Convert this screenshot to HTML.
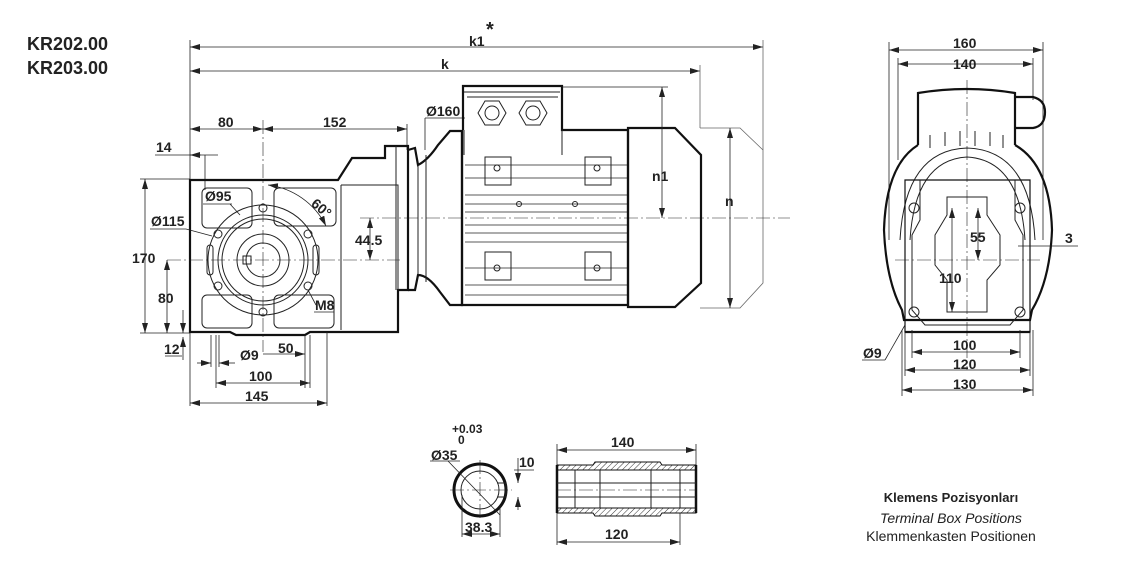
<!DOCTYPE html>
<html><head><meta charset="utf-8"><style>
body{margin:0;background:#fff}
svg{display:block}
text{font-family:"Liberation Sans",Arial,sans-serif;fill:#222}
.b{font-weight:bold;font-size:14px}
.d{stroke:#222;stroke-width:0.8;fill:none}
.o{stroke:#111;stroke-width:2.2;fill:none}
.t{stroke:#222;stroke-width:1;fill:none}
.g{stroke:#666;stroke-width:0.8;fill:none}
.c{stroke:#222;stroke-width:0.6;fill:none;stroke-dasharray:14 3 2 3}
</style></head><body>
<svg width="1128" height="561" viewBox="0 0 1128 561" xmlns="http://www.w3.org/2000/svg">
<defs>
<marker id="a" viewBox="0 0 10 6" refX="10" refY="3" markerWidth="10" markerHeight="6" orient="auto-start-reverse" markerUnits="userSpaceOnUse"><path d="M0,0 L10,3 L0,6 z" fill="#222"/></marker>
<pattern id="h" width="4" height="4" patternUnits="userSpaceOnUse" patternTransform="rotate(45)"><line x1="0" y1="0" x2="0" y2="4" stroke="#333" stroke-width="1"/></pattern>
</defs>

<text x="27" y="50" style="font-weight:bold;font-size:18px">KR202.00</text>
<text x="27" y="74" style="font-weight:bold;font-size:18px">KR203.00</text>

<line class="d" x1="190" y1="40" x2="190" y2="406"/>
<line class="d" x1="190" y1="47" x2="763" y2="47" marker-start="url(#a)" marker-end="url(#a)"/>
<text x="469" y="46" class="b">k1</text><text x="486" y="36" style="font-weight:bold;font-size:20px">*</text>
<line class="d" x1="190" y1="71" x2="700" y2="71" marker-start="url(#a)" marker-end="url(#a)"/>
<text x="441" y="69" class="b">k</text>
<line class="g" x1="763" y1="40" x2="763" y2="150"/>
<line class="g" x1="700" y1="65" x2="700" y2="128"/>
<path class="g" d="M700,128 L740,128 L763,150 L763,283 L740,308 L700,308"/>

<line class="d" x1="190" y1="129" x2="263" y2="129" marker-start="url(#a)" marker-end="url(#a)"/>
<line class="d" x1="263" y1="129" x2="407" y2="129" marker-start="url(#a)" marker-end="url(#a)"/>
<line class="d" x1="407" y1="124" x2="407" y2="150"/>
<text x="218" y="127" class="b">80</text><text x="323" y="127" class="b">152</text>
<line class="d" x1="155" y1="155" x2="218" y2="155"/><line class="d" x1="201" y1="155" x2="190" y2="155" marker-end="url(#a)"/>
<line class="d" x1="205" y1="155" x2="205" y2="190"/>
<text x="156" y="152" class="b">14</text>

<path class="o" d="M190,180 L338,180 L352,158 L385,158 L385,146 L408,146 L408,290 L398,290 L398,332 L310,332 L305,335 L236,335 L230,332 L190,332 Z"/>
<path class="t" d="M341,185 L341,330 M341,185 L398,185 L398,290"/>
<line class="t" x1="396" y1="146" x2="396" y2="290"/>
<line class="c" x1="263" y1="120" x2="263" y2="352"/>
<line class="c" x1="167" y1="260" x2="400" y2="260"/>
<line class="c" x1="360" y1="218" x2="790" y2="218"/>
<rect class="t" x="202" y="188" width="50" height="40" rx="5"/>
<rect class="t" x="274" y="188" width="62" height="38" rx="5"/>
<rect class="t" x="202" y="295" width="50" height="33" rx="5"/>
<rect class="t" x="274" y="295" width="60" height="33" rx="5"/>
<circle class="t" cx="263" cy="260" r="55"/>
<circle class="t" cx="263" cy="260" r="45"/>
<circle class="t" cx="263" cy="260" r="41"/>
<circle class="t" cx="263" cy="260" r="26"/>
<circle class="t" cx="263" cy="260" r="17"/>
<rect class="t" x="243" y="256" width="8" height="8"/>
<g class="t">
<circle cx="263" cy="208" r="4"/><circle cx="263" cy="312" r="4"/>
<circle cx="218" cy="234" r="4"/><circle cx="308" cy="234" r="4"/>
<circle cx="218" cy="286" r="4"/><circle cx="308" cy="286" r="4"/>
<rect x="207" y="245" width="6" height="30" rx="3"/><rect x="313" y="245" width="6" height="30" rx="3"/>
</g>
<path class="d" d="M268,185 A75,75 0 0 1 326,226" marker-start="url(#a)" marker-end="url(#a)"/>
<text x="312" y="210" class="b" transform="rotate(40 318 205)">60°</text>
<text x="205" y="201" class="b">Ø95</text><line class="d" x1="203" y1="204" x2="232" y2="204"/><line class="d" x1="230" y1="204" x2="240" y2="215"/>
<text x="151" y="226" class="b">Ø115</text><line class="d" x1="150" y1="229" x2="186" y2="229"/><line class="d" x1="186" y1="229" x2="212" y2="236"/>
<text x="315" y="310" class="b">M8</text><line class="d" x1="314" y1="312" x2="334" y2="312"/><line class="d" x1="316" y1="305" x2="308" y2="290"/>
<text x="355" y="245" class="b">44.5</text>
<line class="d" x1="370" y1="218" x2="370" y2="260" marker-start="url(#a)" marker-end="url(#a)"/>
<line class="d" x1="140" y1="179" x2="190" y2="179"/>
<line class="d" x1="145" y1="179" x2="145" y2="333" marker-start="url(#a)" marker-end="url(#a)"/>
<line class="d" x1="140" y1="333" x2="190" y2="333"/>
<text x="132" y="263" class="b">170</text>
<line class="d" x1="167" y1="260" x2="167" y2="333" marker-start="url(#a)" marker-end="url(#a)"/>
<text x="158" y="303" class="b">80</text>
<line class="d" x1="183" y1="310" x2="183" y2="333" marker-end="url(#a)"/>
<line class="d" x1="183" y1="360" x2="183" y2="337" marker-end="url(#a)"/>
<text x="164" y="354" class="b">12</text><line class="d" x1="165" y1="356" x2="182" y2="356"/>
<g class="d">
<line x1="211" y1="335" x2="211" y2="367"/><line x1="216" y1="335" x2="216" y2="388"/><line x1="219" y1="335" x2="219" y2="367"/>
<line x1="305" y1="335" x2="305" y2="388"/><line x1="310" y1="335" x2="310" y2="388"/>
<line x1="327" y1="332" x2="327" y2="406"/>
</g>
<line class="d" x1="197" y1="363" x2="211" y2="363" marker-end="url(#a)"/>
<line class="d" x1="235" y1="363" x2="219" y2="363" marker-end="url(#a)"/>
<line class="d" x1="263" y1="354" x2="305" y2="354" marker-end="url(#a)"/>
<text x="240" y="360" class="b">Ø9</text><text x="278" y="353" class="b">50</text>
<line class="d" x1="216" y1="383" x2="310" y2="383" marker-start="url(#a)" marker-end="url(#a)"/>
<text x="249" y="381" class="b">100</text>
<line class="d" x1="190" y1="403" x2="327" y2="403" marker-start="url(#a)" marker-end="url(#a)"/>
<text x="245" y="401" class="b">145</text>

<path class="o" d="M408,150 L415,148 L418,165 Q428,160 438,145 L450,131 L462,131 L462,305 L450,305 L440,292 Q428,275 418,275 L415,290 L408,290"/>
<line class="t" x1="418" y1="165" x2="418" y2="275"/>
<line class="t" x1="426" y1="155" x2="426" y2="282"/>
<line class="d" x1="425" y1="118" x2="425" y2="150"/>
<line class="d" x1="425" y1="118" x2="465" y2="118"/>
<text x="426" y="116" class="b">Ø160</text>
<path class="o" d="M462,130 L462,305 L628,305 L628,130 L562,130 L562,86 L463,86 L463,130"/>
<path class="t" d="M464,92 L560,92 M467,97 L558,97 M464,130 L464,155 M562,130 L562,155"/>
<g class="t">
<polygon points="478,113 485,101 499,101 506,113 499,125 485,125"/><circle cx="492" cy="113" r="7"/>
<polygon points="519,113 526,101 540,101 547,113 540,125 526,125"/><circle cx="533" cy="113" r="7"/>
</g>
<g class="t">
<rect x="485" y="157" width="26" height="28"/><rect x="585" y="157" width="26" height="28"/>
<rect x="485" y="252" width="26" height="28"/><rect x="585" y="252" width="26" height="28"/>
<circle cx="497" cy="168" r="3"/><circle cx="597" cy="168" r="3"/>
<circle cx="497" cy="268" r="3"/><circle cx="597" cy="268" r="3"/>
<circle cx="519" cy="204" r="2.5"/><circle cx="575" cy="204" r="2.5"/>
</g>
<g class="d">
<line x1="465" y1="165" x2="628" y2="165"/><line x1="465" y1="178" x2="628" y2="178"/>
<line x1="465" y1="195" x2="628" y2="195"/><line x1="465" y1="204" x2="628" y2="204"/>
<line x1="465" y1="212" x2="628" y2="212"/><line x1="465" y1="225" x2="628" y2="225"/>
<line x1="465" y1="233" x2="628" y2="233"/><line x1="465" y1="242" x2="628" y2="242"/>
<line x1="465" y1="268" x2="628" y2="268"/><line x1="465" y1="285" x2="628" y2="285"/>
<line x1="465" y1="295" x2="628" y2="295"/>
</g>
<path class="o" d="M628,128 L675,128 L701,155 L701,283 L675,307 L628,307 Z"/>
<line class="d" x1="562" y1="87" x2="668" y2="87"/>
<line class="d" x1="662" y1="87" x2="662" y2="218" marker-start="url(#a)" marker-end="url(#a)"/>
<text x="652" y="181" class="b">n1</text>
<line class="d" x1="730" y1="128" x2="730" y2="308" marker-start="url(#a)" marker-end="url(#a)"/>
<text x="725" y="206" class="b">n</text>

<line class="d" x1="889" y1="42" x2="889" y2="240"/><line class="d" x1="1043" y1="42" x2="1043" y2="240"/>
<line class="d" x1="889" y1="50" x2="1043" y2="50" marker-start="url(#a)" marker-end="url(#a)"/>
<text x="953" y="48" class="b">160</text>
<line class="d" x1="898" y1="58" x2="898" y2="160"/><line class="d" x1="1033" y1="58" x2="1033" y2="100"/>
<line class="d" x1="898" y1="64" x2="1033" y2="64" marker-start="url(#a)" marker-end="url(#a)"/>
<text x="953" y="69" class="b">140</text>
<line class="c" x1="967" y1="80" x2="967" y2="370"/>
<path class="o" d="M918,145 L918,93 Q967,85 1015,93 L1015,145"/>
<path class="o" d="M1015,97 L1033,97 Q1045,100 1045,112 Q1045,126 1033,128 L1015,128"/>
<path class="o" d="M918,145 Q886,165 884,230 Q886,280 902,310 L904,320 L1030,320 L1032,310 Q1050,280 1052,230 Q1050,165 1015,145"/>
<path class="t" d="M900,240 Q905,150 967,148 Q1030,150 1035,240"/>
<path class="t" d="M910,240 Q915,160 967,157 Q1020,160 1025,240"/>
<g class="t"><line x1="930" y1="135" x2="930" y2="148"/><line x1="945" y1="132" x2="945" y2="146"/><line x1="960" y1="131" x2="960" y2="146"/><line x1="975" y1="131" x2="975" y2="146"/><line x1="990" y1="132" x2="990" y2="146"/><line x1="1003" y1="135" x2="1003" y2="148"/></g>
<path class="o" d="M905,180 L1030,180 L1030,332 L905,332 Z" style="stroke-width:1.2"/>
<path class="o" d="M905,332 L1030,332"/>
<path class="t" d="M920,180 L920,220 L912,235 L912,310 L925,325 L1010,325 L1023,310 L1023,235 L1015,220 L1015,180"/>
<path class="t" d="M947,197 L987,197 L987,215 L1000,235 L1000,265 L987,280 L987,312 L947,312 L947,280 L935,265 L935,235 L947,215 Z"/>
<g class="t"><circle cx="914" cy="208" r="5"/><circle cx="1020" cy="208" r="5"/><circle cx="914" cy="312" r="5"/><circle cx="1020" cy="312" r="5"/></g>
<line class="c" x1="895" y1="260" x2="1040" y2="260"/>
<line class="d" x1="952" y1="208" x2="952" y2="312" marker-start="url(#a)" marker-end="url(#a)"/>
<line class="d" x1="978" y1="208" x2="978" y2="260" marker-start="url(#a)" marker-end="url(#a)"/>
<text x="970" y="242" class="b">55</text><text x="939" y="283" class="b">110</text>
<line class="d" x1="1018" y1="246" x2="1078" y2="246"/><text x="1065" y="243" class="b">3</text>
<line class="d" x1="912" y1="330" x2="912" y2="358"/><line class="d" x1="1020" y1="330" x2="1020" y2="358"/>
<line class="d" x1="912" y1="352" x2="1020" y2="352" marker-start="url(#a)" marker-end="url(#a)"/>
<text x="953" y="350" class="b">100</text>
<line class="d" x1="905" y1="332" x2="905" y2="376"/><line class="d" x1="1030" y1="332" x2="1030" y2="376"/>
<line class="d" x1="905" y1="370" x2="1030" y2="370" marker-start="url(#a)" marker-end="url(#a)"/>
<text x="953" y="369" class="b">120</text>
<line class="d" x1="902" y1="330" x2="902" y2="396"/><line class="d" x1="1033" y1="330" x2="1033" y2="396"/>
<line class="d" x1="902" y1="390" x2="1033" y2="390" marker-start="url(#a)" marker-end="url(#a)"/>
<text x="953" y="389" class="b">130</text>
<text x="863" y="358" class="b">Ø9</text><line class="d" x1="862" y1="360" x2="885" y2="360"/><line class="d" x1="885" y1="360" x2="905" y2="325"/>

<circle cx="480" cy="490" r="26" style="stroke:#111;stroke-width:3;fill:none"/>
<circle cx="480" cy="490" r="19" class="t"/>
<path class="t" d="M497,483 L506,483 L506,497 L497,497"/>
<line class="c" x1="450" y1="490" x2="512" y2="490"/><line class="c" x1="480" y1="460" x2="480" y2="520"/>
<line class="d" x1="448" y1="461" x2="500" y2="515"/>
<line class="d" x1="430" y1="461" x2="460" y2="461"/>
<text x="431" y="460" class="b">Ø35</text>
<text x="452" y="433" style="font-size:12px;font-weight:bold">+0.03</text>
<text x="458" y="444" style="font-size:12px;font-weight:bold">0</text>
<line class="d" x1="514" y1="470" x2="534" y2="470"/>
<line class="d" x1="518" y1="458" x2="518" y2="483" marker-end="url(#a)"/>
<line class="d" x1="518" y1="510" x2="518" y2="497" marker-end="url(#a)"/>
<text x="519" y="467" class="b">10</text>
<line class="d" x1="462" y1="495" x2="462" y2="537"/><line class="d" x1="500" y1="505" x2="500" y2="537"/>
<line class="d" x1="462" y1="534" x2="500" y2="534" marker-start="url(#a)" marker-end="url(#a)"/>
<text x="465" y="532" class="b">38.3</text>

<line class="d" x1="557" y1="444" x2="557" y2="545"/><line class="d" x1="696" y1="444" x2="696" y2="465"/>
<line class="d" x1="557" y1="450" x2="696" y2="450" marker-start="url(#a)" marker-end="url(#a)"/>
<text x="611" y="447" class="b">140</text>
<path d="M557,465 L593,465 L595,462 L660,462 L662,465 L696,465 L696,470 L557,470 Z" fill="url(#h)" stroke="#111" stroke-width="1"/>
<path d="M557,508 L696,508 L696,513 L662,513 L660,516 L595,516 L593,513 L557,513 Z" fill="url(#h)" stroke="#111" stroke-width="1"/>
<line x1="557" y1="465" x2="557" y2="513" stroke="#111" stroke-width="2.5"/>
<line x1="696" y1="465" x2="696" y2="513" stroke="#111" stroke-width="2.5"/>
<g class="t"><line x1="575" y1="470" x2="575" y2="508"/><line x1="680" y1="470" x2="680" y2="508"/><line x1="600" y1="470" x2="600" y2="508"/><line x1="651" y1="470" x2="651" y2="508"/>
<line x1="557" y1="483" x2="696" y2="483"/><line x1="557" y1="497" x2="696" y2="497"/></g>
<line class="c" x1="557" y1="490" x2="696" y2="490"/>
<line class="d" x1="680" y1="513" x2="680" y2="545"/>
<line class="d" x1="557" y1="542" x2="680" y2="542" marker-start="url(#a)" marker-end="url(#a)"/>
<text x="605" y="539" class="b">120</text>

<text x="951" y="502" text-anchor="middle" class="b" style="font-size:13px">Klemens Pozisyonları</text>
<text x="951" y="523" text-anchor="middle" style="font-size:14px;font-style:italic">Terminal Box Positions</text>
<text x="951" y="541" text-anchor="middle" style="font-size:14px">Klemmenkasten Positionen</text>
</svg>
</body></html>
